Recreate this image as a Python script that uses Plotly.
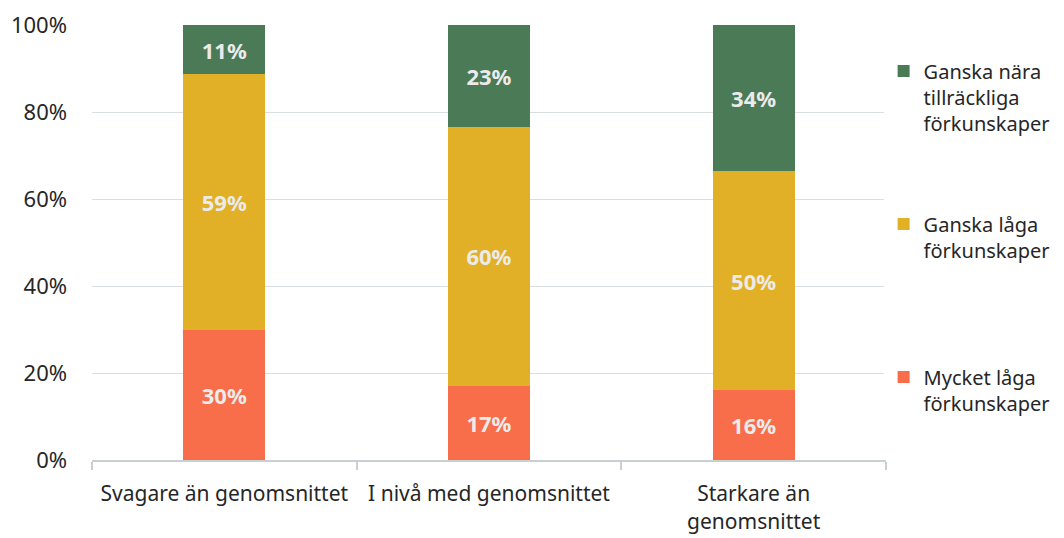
import plotly.graph_objects as go

categories = ["Svagare än genomsnittet", "I nivå med genomsnittet", "Starkare än<br>genomsnittet"]
mycket_laga = [29.9, 17.0, 16.1]
ganska_laga = [58.8, 59.6, 50.3]
ganska_nara = [11.3, 23.4, 33.6]

series = [
    ("Mycket låga<br>förkunskaper<br>\u00a0", mycket_laga, "#f86e4a", "g3", 3),
    ("Ganska låga<br>förkunskaper<br>\u00a0", ganska_laga, "#e2b027", "g2", 2),
    ("Ganska nära<br>tillräckliga<br>förkunskaper", ganska_nara, "#4b7a57", "g1", 1),
]

fig = go.Figure()
for name, vals, color, grp, rank in series:
    fig.add_trace(go.Bar(
        x=categories, y=vals, name=name, marker_color=color,
        marker_line_width=0, legendgroup=grp, legendrank=rank,
        texttemplate="<b>%{y:.0f}%</b>", textposition="inside",
        insidetextanchor="middle",
        textfont=dict(color="#ebebeb", size=22, family="Noto Sans"),
    ))

fig.update_layout(
    barmode="stack", bargap=0.69,
    width=1064, height=538,
    margin=dict(l=84, r=186, t=17, b=86, autoexpand=False),
    plot_bgcolor="white", paper_bgcolor="white",
    font=dict(family="Noto Sans", size=22, color="#262626"),
    legend=dict(x=0.997, y=0.939, xanchor="left", yanchor="top",
                traceorder="grouped", tracegroupgap=72,
                valign="top", font=dict(size=20, color="#262626"),
                itemwidth=30),
    showlegend=True,
)
fig.update_yaxes(range=[0, 100], tickvals=[0, 20, 40, 60, 80, 100],
                 ticktext=["0%", "20%", "40%", "60%", "80%", "100%"],
                 showgrid=True, gridcolor="#d9dfe0", gridwidth=1,
                 zeroline=False, showline=False, ticks="", ticklen=0,
                 ticklabelstandoff=24, automargin=False,
                 tickfont=dict(size=22))
fig.update_xaxes(showline=True, linecolor="#c8d0d2", linewidth=2,
                 ticks="outside", tickson="boundaries", ticklen=8,
                 tickcolor="#c8d0d2", tickwidth=2, tickfont=dict(size=21),
                 tickangle=0, ticklabelstandoff=14, automargin=False)

fig.write_html("out.html")
